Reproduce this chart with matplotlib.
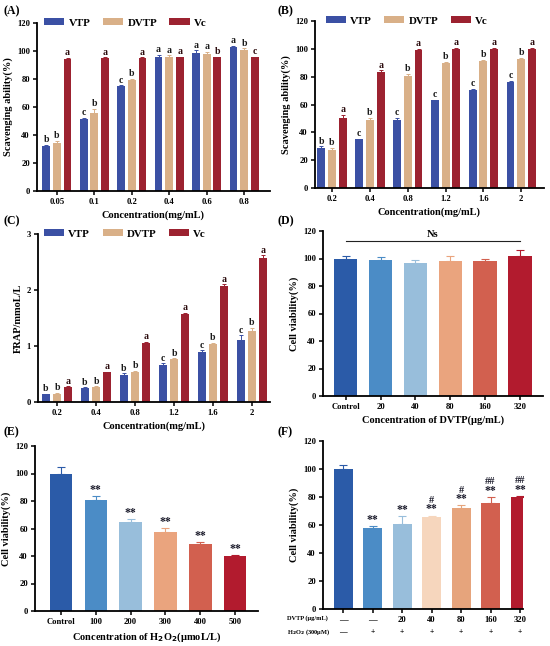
import numpy as np
import matplotlib
matplotlib.use('Agg')
from matplotlib import pyplot as plt

plt.rcParams['font.family'] = ['Liberation Serif', 'DejaVu Serif']
plt.rcParams['font.weight'] = 'bold'
plt.rcParams['axes.labelweight'] = 'bold'

# ---- data ----
conc_a = ['0.05', '0.1', '0.2', '0.4', '0.6', '0.8']
vtp_a = [32, 51.5, 75, 96, 98.5, 103]
dvtp_a = [34.5, 56, 79, 96, 98, 100.5]
vc_a = [94, 95, 95, 95.5, 95.5, 95.5]
vtp_a_err = [1, 0.7, 0.5, 1.5, 2, 0.5]
dvtp_a_err = [1.5, 2.5, 1.0, 0.8, 1.2, 1.5]
vc_a_err = [1, 0.5, 0.5, 0.5, 0.5, 0.5]
vtp_a_let = ['b', 'c', 'c', 'a', 'a', 'a']
dvtp_a_let = ['b', 'b', 'b', 'a', 'a', 'b']
vc_a_let = ['a', 'a', 'a', 'a', 'b', 'c']

conc_b = ['0.2', '0.4', '0.8', '1.2', '1.6', '2']
vtp_b = [28.5, 35, 49, 63, 70.5, 76.5]
dvtp_b = [27, 49, 80.5, 89.5, 91.5, 93]
vc_b = [50, 83.5, 99.5, 100, 100, 100]
vtp_b_err = [1.5, 0.5, 1.5, 0.5, 0.5, 0.5]
dvtp_b_err = [2, 1.2, 1.5, 1.2, 0.5, 0.5]
vc_b_err = [2.5, 1, 0.5, 0.5, 0.5, 0.5]
vtp_b_let = ['b', 'c', 'c', 'c', 'c', 'c']
dvtp_b_let = ['b', 'b', 'b', 'b', 'b', 'b']
vc_b_let = ['a', 'a', 'a', 'a', 'a', 'a']

conc_c = ['0.2', '0.4', '0.8', '1.2', '1.6', '2']
vtp_c = [0.14, 0.25, 0.49, 0.66, 0.90, 1.11]
dvtp_c = [0.15, 0.27, 0.53, 0.77, 1.03, 1.27]
vc_c = [0.27, 0.53, 1.06, 1.58, 2.08, 2.58]
vtp_c_err = [0.01, 0.01, 0.02, 0.03, 0.02, 0.08]
dvtp_c_err = [0.01, 0.01, 0.03, 0.01, 0.03, 0.05]
vc_c_err = [0.01, 0.01, 0.01, 0.01, 0.02, 0.04]
vtp_c_let = ['b', 'b', 'b', 'c', 'c', 'c']
dvtp_c_let = ['b', 'b', 'b', 'b', 'b', 'b']
vc_c_let = ['a', 'a', 'a', 'a', 'a', 'a']

groups_d = ['Control', '20', '40', '80', '160', '320']
via_d = [100, 99, 97, 98.5, 98, 102]
via_d_err = [1.5, 2, 2, 3.5, 2, 4]

groups_e = ['Control', '100', '200', '300', '400', '500']
via_e = [100, 80.5, 65, 57.5, 49, 40]
via_e_err = [5, 3, 2, 3, 1.5, 1]
star_e = ['', '**', '**', '**', '**', '**']

dvtp_f = ['—', '—', '20', '40', '80', '160', '320']
h2o2_f = ['—', '+', '+', '+', '+', '+', '+']
via_f = [100, 58, 61, 66, 72, 76, 80]
via_f_err = [3, 1.5, 5.5, 0.3, 2, 4, 1]
star_f = ['', '**', '**', '**', '**', '**', '**']
hash_f = ['', '', '', '#', '#', '##', '##']

# ---- style ----
c_vtp, c_dvtp, c_vc = '#3b50a4', '#d9b088', '#9c2230'
six = ['#2b5ba8', '#4b8cc6', '#98bedb', '#eaa47e', '#d2604f', '#b21b2e']
seven = ['#2b5ba8', '#4b8cc6', '#98bedb', '#f6d6bd', '#e6a47c', '#d2604f', '#b21b2e']

W, H = 550, 646
fig = plt.figure(figsize=(W / 100, H / 100), dpi=100)

def box(l, r, t, b):
    return fig.add_axes([l / W, 1 - b / H, (r - l) / W, (b - t) / H])

def style(ax):
    for s in ['top', 'right']:
        ax.spines[s].set_visible(False)
    for s in ['left', 'bottom']:
        ax.spines[s].set_linewidth(1.3)
    ax.tick_params(width=1.1, length=3, labelsize=6.2, pad=2)
    for t in ax.get_yticklabels() + ax.get_xticklabels():
        t.set_fontweight('bold')

def grouped(ax, labels, vals, errs, lets, off, ylim, ticks, xlim, ylabel, dy):
    x = np.arange(len(labels))
    names = ['VTP', 'DVTP', 'Vc']
    cols = [c_vtp, c_dvtp, c_vc]
    for k in range(3):
        xs = x + (k - 1) * off
        ax.bar(xs, vals[k], 0.21, color=cols[k], label=names[k], zorder=2)
        ax.errorbar(xs, vals[k], yerr=errs[k], fmt='none', ecolor=cols[k],
                    elinewidth=0.7, capsize=1.5, capthick=0.7, zorder=3)
        for xi, v, e, t in zip(xs, vals[k], errs[k], lets[k]):
            ax.text(xi, v + e + dy, t, ha='center', va='bottom', fontsize=7,
                    fontweight='bold', color='#1a1a1a' if k < 2 else '#2a0a0c')
    ax.set_xticks(x)
    ax.set_xticklabels(labels)
    ax.set_xlim(*xlim)
    ax.set_ylim(*ylim)
    ax.set_yticks(ticks)
    ax.set_ylabel(ylabel, fontsize=7.5, labelpad=3)
    ax.set_xlabel('Concentration(mg/mL)', fontsize=7.5, labelpad=3)
    style(ax)

def legend_top(ax, cx):
    ax.legend(loc='center', bbox_to_anchor=(cx, 1.0), ncol=3, frameon=False,
              handlelength=1.85, handleheight=0.6, columnspacing=1.15,
              handletextpad=0.4, borderpad=0.2,
              prop={'weight': 'bold', 'size': 7.8})

# (A)
axA = box(37, 270, 23, 191)
grouped(axA, conc_a, [vtp_a, dvtp_a, vc_a], [vtp_a_err, dvtp_a_err, vc_a_err],
        [vtp_a_let, dvtp_a_let, vc_a_let], 0.285, (0, 120), range(0, 121, 20),
        (-0.53, 5.69), 'Scavenging ability(%)', 0.5)
legend_top(axA, 0.38)

# (B)
axB = box(315, 544, 21, 188)
grouped(axB, conc_b, [vtp_b, dvtp_b, vc_b], [vtp_b_err, dvtp_b_err, vc_b_err],
        [vtp_b_let, dvtp_b_let, vc_b_let], 0.285, (0, 120), range(0, 121, 20),
        (-0.45, 5.6), 'Scavenging ability(%)', 0.5)
legend_top(axB, 0.40)

# (C)
axC = box(38, 270, 234, 402)
grouped(axC, conc_c, [vtp_c, dvtp_c, vc_c], [vtp_c_err, dvtp_c_err, vc_c_err],
        [vtp_c_let, dvtp_c_let, vc_c_let], 0.285, (0, 3), range(0, 4),
        (-0.49, 5.46), 'FRAP/mmoL/L', 0.012)
legend_top(axC, 0.375)

# (D)
axD = box(323, 543, 231, 396)
xd = np.arange(len(groups_d))
axD.bar(xd, via_d, 0.67, color=six, zorder=2)
for xi, v, e, c in zip(xd, via_d, via_d_err, six):
    axD.errorbar(xi, v, yerr=[[0], [e]], fmt='none', ecolor=c, elinewidth=0.8,
                 capsize=3, capthick=0.8, zorder=3)
axD.plot([xd[0], xd[-1]], [113, 113], color='#222222', lw=0.8)
axD.text(xd.mean(), 114.5, 'Ns', ha='center', va='bottom', fontsize=7.5, fontweight='bold')
axD.set_xticks(xd)
axD.set_xticklabels(groups_d)
axD.set_xlim(-0.65, 5.66)
axD.set_ylim(0, 120)
axD.set_yticks(range(0, 121, 20))
axD.set_ylabel('Cell viability(%)', fontsize=7.5, labelpad=3)
axD.set_xlabel('Concentration of DVTP(μg/mL)', fontsize=7.5, labelpad=3)
style(axD)

# (E)
axE = box(35, 258, 446, 611)
xe = np.arange(len(groups_e))
axE.bar(xe, via_e, 0.65, color=six, zorder=2)
for xi, v, e, c, s in zip(xe, via_e, via_e_err, six, star_e):
    axE.errorbar(xi, v, yerr=[[0], [e]], fmt='none', ecolor=c, elinewidth=0.8,
                 capsize=3, capthick=0.8, zorder=3)
    if s:
        axE.text(xi, v + e, s, ha='center', va='bottom', fontsize=8.5,
                 fontweight='bold', color='#1a1a2a')
axE.set_xticks(xe)
axE.set_xticklabels(groups_e)
axE.set_xlim(-0.75, 5.66)
axE.set_ylim(0, 120)
axE.set_yticks(range(0, 121, 20))
axE.set_ylabel('Cell viability(%)', fontsize=7.5, labelpad=3)
axE.set_xlabel('Concentration of H$_2$O$_2$(μmoL/L)', fontsize=7.5, labelpad=3)
style(axE)

# (F)
axF = box(323, 523, 441, 609)
xf = np.arange(len(via_f))
axF.bar(xf, via_f, 0.64, color=seven, zorder=2)
for xi, v, e, c, s, h in zip(xf, via_f, via_f_err, seven, star_f, hash_f):
    axF.errorbar(xi, v, yerr=[[0], [e]], fmt='none', ecolor=c, elinewidth=0.8,
                 capsize=3, capthick=0.8, zorder=3)
    top = max(v + e, v + 1)
    if s:
        axF.text(xi, top, s, ha='center', va='bottom', fontsize=8.5,
                 fontweight='bold', color='#1a1a2a')
    if h:
        axF.text(xi, top + 7.5, h, ha='center', va='bottom', fontsize=7.5,
                 fontweight='bold', color='#1a1a2a')
axF.set_xticks(xf)
axF.set_xticklabels(dvtp_f)
axF.set_xlim(-0.69, 6.1)
axF.set_ylim(0, 120)
axF.set_yticks(range(0, 121, 20))
axF.set_ylabel('Cell viability(%)', fontsize=7.5, labelpad=3)
style(axF)
trF = axF.get_xaxis_transform()
for xi, t in zip(xf, h2o2_f):
    axF.text(xi, -0.137, t, transform=trF, ha='center', va='center',
             fontsize=5.5, fontweight='bold')
axF.text(-0.18, -0.054, 'DVTP (μg/mL)', transform=axF.transAxes, ha='left',
         va='center', fontsize=4.6, fontweight='bold')
axF.text(-0.18, -0.137, 'H$_2$O$_2$ (300μM)', transform=axF.transAxes, ha='left',
         va='center', fontsize=4.6, fontweight='bold')

# panel tags
for tag, px, py in [('(A)', 4, 11), ('(B)', 278, 11), ('(C)', 4, 221),
                    ('(D)', 278, 221), ('(E)', 4, 432), ('(F)', 278, 432)]:
    fig.text(px / W, 1 - py / H, tag, ha='left', va='center', fontsize=8.5,
             fontweight='bold')

fig.savefig('out.png', dpi=100)
